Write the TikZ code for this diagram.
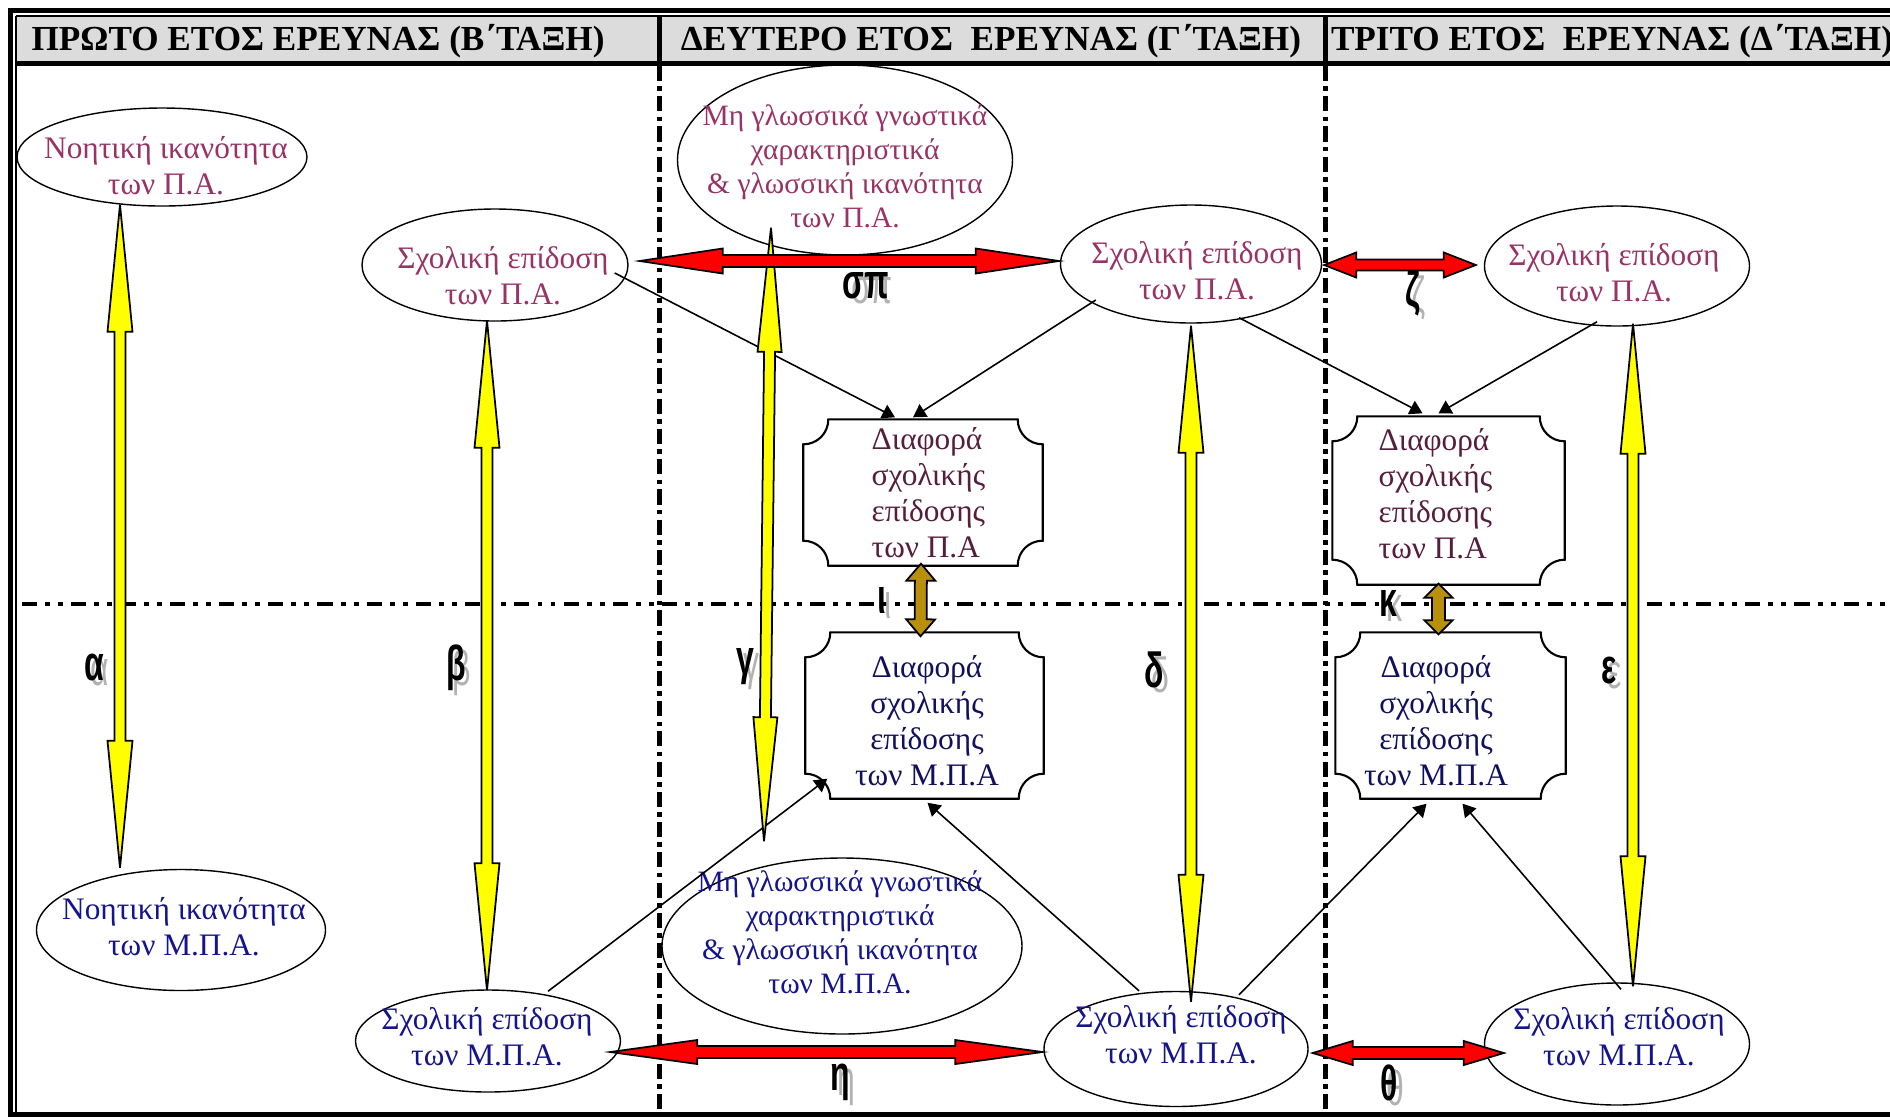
\documentclass[tikz,border=0pt]{standalone}
\usepackage{fontspec}
\usepackage{graphicx}
\setmainfont{Liberation Serif}
\newfontfamily\lblfont{Liberation Sans}
\usetikzlibrary{calc,arrows.meta,shapes.geometric}

\definecolor{paEll}{HTML}{993366}
\definecolor{paBox}{HTML}{561E3C}
\definecolor{mpaEll}{HTML}{14148C}
\definecolor{mpaBox}{HTML}{10105E}
\definecolor{headGray}{HTML}{DCDCDC}
\definecolor{arrYellow}{HTML}{FFFF00}
\definecolor{arrRed}{HTML}{FF0000}
\definecolor{arrGold}{HTML}{B8900B}

% double-headed block arrow between two named points
% #1,#2 tips, #3 half shaft, #4 half head, #5 head length, #6 fill
\newcommand\blockarrow[6]{%
  \draw[line width=0.5pt, fill=#6, line join=miter]
    (#1)
    -- ($(#1)!#5!(#2)!#4!90:(#2)$)
    -- ($(#1)!#5!(#2)!#3!90:(#2)$)
    -- ($(#2)!#5!(#1)!#3!-90:(#1)$)
    -- ($(#2)!#5!(#1)!#4!-90:(#1)$)
    -- (#2)
    -- ($(#2)!#5!(#1)!#4!90:(#1)$)
    -- ($(#2)!#5!(#1)!#3!90:(#1)$)
    -- ($(#1)!#5!(#2)!#3!-90:(#2)$)
    -- ($(#1)!#5!(#2)!#4!-90:(#2)$)
    -- cycle;}

% frame with concave corners around a rectangle node
\newcommand\plaque[1]{%
  \draw[line width=0.6pt, fill=white]
    ($(#1.north west)+(25,0)$) -- ($(#1.north east)+(-25,0)$)
    .. controls ($(#1.north east)+(-25,14)$) and ($(#1.north east)+(-14,25)$) .. ($(#1.north east)+(0,25)$)
    -- ($(#1.south east)+(0,-25)$)
    .. controls ($(#1.south east)+(-14,-25)$) and ($(#1.south east)+(-25,-14)$) .. ($(#1.south east)+(-25,0)$)
    -- ($(#1.south west)+(25,0)$)
    .. controls ($(#1.south west)+(25,-14)$) and ($(#1.south west)+(14,-25)$) .. ($(#1.south west)+(0,-25)$)
    -- ($(#1.north west)+(0,25)$)
    .. controls ($(#1.north west)+(14,25)$) and ($(#1.north west)+(25,14)$) .. cycle;}

% bold letter with a grey offset copy underneath
\newcommand\greeklabel[3]{%
  \node[lblshadow] (#1s) at ($(#2)+(6,5)$) {\scalebox{0.65}[1]{#3}};
  \node[lbl] (#1) at (#2) {\scalebox{0.65}[1]{#3}};}

\begin{document}
\begin{tikzpicture}[x=0.01cm,y=-0.01cm,
  ell/.style={ellipse, draw, line width=0.4pt, fill=white, inner sep=0pt},
  esize/.style 2 args={minimum width=#1*0.01cm, minimum height=#2*0.01cm},
  boxnode/.style={rectangle, inner sep=0pt},
  etxt/.style={inner sep=0pt, align=center, font=\fontsize{8.9pt}{10.24pt}\selectfont},
  etxtfour/.style={inner sep=0pt, align=center, font=\fontsize{8.4pt}{9.67pt}\selectfont},
  btxt/.style={inner sep=0pt, font=\fontsize{8.9pt}{10.24pt}\selectfont},
  thinarr/.style={line width=0.45pt, -{Triangle[length=3.6pt,width=4.2pt]}},
  vdiv/.style={line width=1.42pt, dash pattern=on 4.3pt off 1.5pt on 1.3pt off 1.5pt},
  hdiv/.style={line width=1.3pt, dash pattern=on 4.3pt off 2.3pt on 1.4pt off 2.3pt on 1.4pt off 2.3pt},
  lbl/.style={inner sep=0pt, text=black, font=\lblfont\bfseries\fontsize{14pt}{14pt}\selectfont},
  lblshadow/.style={inner sep=0pt, text=black!30, font=\lblfont\fontsize{14pt}{14pt}\selectfont},
  headtxt/.style={inner sep=0pt, font=\bfseries\fontsize{10pt}{12pt}\selectfont}
]
\useasboundingbox (0,0) rectangle (1890,1117);

% outer frame
\draw[line width=1.42pt] (8,10.5) -- (1890,10.5);
\draw[line width=0.3pt] (16,16) -- (1890,16);
\draw[line width=1.42pt] (10.5,8) -- (10.5,1117);
\draw[line width=0.3pt] (16,16) -- (16,1112);
\draw[line width=1.42pt] (8,1114.5) -- (1890,1114.5);

% column and row separators
\draw[vdiv] (659,66) -- (659,1112);
\draw[vdiv] (1325,66) -- (1325,1112);
\draw[hdiv] (22,604) -- (1890,604);

% ellipses
\node[ell, esize={290}{98}]  (E1)  at (162,157) {};
\node[ell, esize={289}{121}] (E1b) at (181,930) {};
\node[ell, esize={266}{112}] (E2)  at (495,265) {};
\node[ell, esize={265}{102}] (E3)  at (488,1041) {};
\node[ell, esize={335}{190}] (E4)  at (845,160) {};
\node[ell, esize={360}{176}] (E5)  at (842,946) {};
\node[ell, esize={261}{118}] (E6)  at (1191,264) {};
\node[ell, esize={264}{115}] (E7)  at (1176,1049) {};
\node[ell, esize={265}{120}] (E8)  at (1617,266) {};
\node[ell, esize={265}{122}] (E9)  at (1617,1044) {};

% difference boxes
\node[boxnode, esize={238}{145}] (B1) at (923,492.5) {};
\node[boxnode, esize={237}{165}] (B2) at (924.5,715.5) {};
\node[boxnode, esize={231}{167}] (B3) at (1448.5,500.5) {};
\node[boxnode, esize={229}{165}] (B4) at (1450.5,715.5) {};
\plaque{B1}
\plaque{B2}
\plaque{B3}
\plaque{B4}

% ellipse texts
\node[etxt, text=paEll]  (T1)  at (166,166)  {Νοητική ικανότητα\\των Π.Α.};
\node[etxt, text=mpaEll] (T1b) at (184,927)  {Νοητική ικανότητα\\των Μ.Π.Α.};
\node[etxt, text=paEll]  (T2)  at (503,276)  {Σχολική επίδοση\\των Π.Α.};
\node[etxt, text=mpaEll] (T3)  at (487,1037) {Σχολική επίδοση\\των Μ.Π.Α.};
\node[etxtfour, text=paEll]  (T4) at (845,166) {Μη γλωσσικά γνωστικά\\χαρακτηριστικά\\\& γλωσσική ικανότητα\\των Π.Α.};
\node[etxtfour, text=mpaEll] (T5) at (840,932) {Μη γλωσσικά γνωστικά\\χαρακτηριστικά\\\& γλωσσική ικανότητα\\των Μ.Π.Α.};
\node[etxt, text=paEll]  (T6)  at (1197,271)  {Σχολική επίδοση\\των Π.Α.};
\node[etxt, text=mpaEll] (T7)  at (1181,1035) {Σχολική επίδοση\\των Μ.Π.Α.};
\node[etxt, text=paEll]  (T8)  at (1614,273)  {Σχολική επίδοση\\των Π.Α.};
\node[etxt, text=mpaEll] (T9)  at (1619,1037) {Σχολική επίδοση\\των Μ.Π.Α.};

% box texts
\node[btxt, align=left, text=paBox, anchor=west]  (TB1) at (871,493)  {Διαφορά\\σχολικής\\επίδοσης\\των Π.Α};
\node[btxt, align=center, text=mpaBox]            (TB2) at (927,721)  {Διαφορά\\σχολικής\\επίδοσης\\των Μ.Π.Α};
\node[btxt, align=left, text=paBox, anchor=west]  (TB3) at (1378,494) {Διαφορά\\σχολικής\\επίδοσης\\των Π.Α};
\node[btxt, align=center, text=mpaBox]            (TB4) at (1436,721) {Διαφορά\\σχολικής\\επίδοσης\\των Μ.Π.Α};

% thin influence arrows
\draw[thinarr] ($(E2.east)+(-14,8)$)   -- ($(B1.north)+(-28,-2)$);
\draw[thinarr] ($(E6.west)+(36,36)$)   -- ($(B1.north)+(-10,-2)$);
\draw[thinarr] ($(E6.south)+(48,-6)$)  -- ($(B3.north)+(-26,-3)$);
\draw[thinarr] ($(E8.south)+(-20,-5)$) -- ($(B3.north)+(-10,-3)$);
\draw[thinarr] ($(E3.north)+(60,2)$)   -- ($(B2.south west)+(22,-20)$);
\draw[thinarr] ($(E7.north)+(-37,0)$)  -- ($(B2.south)+(3,4)$);
\draw[thinarr] ($(E7.north)+(63,4)$)   -- ($(B4.south)+(-24,5)$);
\draw[thinarr] ($(E9.north)+(4,7)$)    -- ($(B4.south)+(12,5)$);

% end points of the block arrows
\coordinate (alA) at ($(E1.south)+(-42,-2)$);
\coordinate (alB) at ($(E1b.north)+(-61,-1)$);
\coordinate (beA) at ($(E2.south)+(-8,-1)$);
\coordinate (beB) at ($(E3.north)+(-1,1)$);
\coordinate (gaA) at ($(E4.south)+(-74,-28)$);
\coordinate (gaB) at ($(E5.north)+(-78,-16)$);
\coordinate (deA) at ($(E6.south)+(0,2)$);
\coordinate (deB) at ($(E7.north)+(15,11)$);
\coordinate (epA) at ($(E8.south)+(16,-3)$);
\coordinate (epB) at ($(E9.north)+(16,4)$);
\coordinate (spA) at ($(E2.east)+(11,-4)$);
\coordinate (spB) at ($(E6.west)+(-1,-3)$);
\coordinate (zeA) at ($(E6.east)+(2,1)$);
\coordinate (zeB) at ($(E8.west)+(-8,-1)$);
\coordinate (etA) at ($(E3.east)+(-11,11)$);
\coordinate (etB) at ($(E7.west)+(-1,3)$);
\coordinate (thA) at ($(E7.east)+(4,4)$);
\coordinate (thB) at ($(E9.west)+(20,9)$);
\coordinate (ioA) at ($(B1.south)+(-2,-2)$);
\coordinate (ioB) at ($(B2.north)+(-4,4)$);
\coordinate (kaA) at ($(B3.south)+(-10,-1)$);
\coordinate (kaB) at ($(B4.north)+(-12,2)$);

% vertical links (yellow)
\blockarrow{alA}{alB}{0.055cm}{0.125cm}{1.27cm}{arrYellow}
\blockarrow{beA}{beB}{0.055cm}{0.125cm}{1.27cm}{arrYellow}
\blockarrow{gaA}{gaB}{0.055cm}{0.12cm}{1.24cm}{arrYellow}
\blockarrow{deA}{deB}{0.055cm}{0.125cm}{1.27cm}{arrYellow}
\blockarrow{epA}{epB}{0.055cm}{0.125cm}{1.30cm}{arrYellow}
% links across years (red)
\blockarrow{spA}{spB}{0.06cm}{0.125cm}{0.83cm}{arrRed}
\blockarrow{zeA}{zeB}{0.055cm}{0.125cm}{0.32cm}{arrRed}
\blockarrow{etA}{etB}{0.06cm}{0.12cm}{0.87cm}{arrRed}
\blockarrow{thA}{thB}{0.06cm}{0.12cm}{0.40cm}{arrRed}
% links between the difference boxes (gold)
\blockarrow{ioA}{ioB}{0.06cm}{0.145cm}{0.17cm}{arrGold}
\blockarrow{kaA}{kaB}{0.065cm}{0.14cm}{0.14cm}{arrGold}

% path labels
\greeklabel{Lal}{94,667}{α}
\greeklabel{Lbe}{456,668}{β}
\greeklabel{Lga}{745,667}{γ}
\greeklabel{Lde}{1154,670}{δ}
\greeklabel{Lep}{1609,670}{ε}
\greeklabel{Lsp}{866,286}{σπ}
\greeklabel{Lze}{1413,293}{ζ}
\greeklabel{Let}{840,1082}{η}
\greeklabel{Lth}{1389,1083}{θ}
\greeklabel{Lio}{882,600}{ι}
\greeklabel{Lka}{1388,603}{κ}

% header row
\fill[headGray] (17,17) rectangle (1890,61);
\draw[line width=1.42pt] (17,63.5) -- (1890,63.5);
\draw[line width=1.42pt] (659,17) -- (659,66);
\draw[line width=1.42pt] (1325,17) -- (1325,66);
\node[headtxt, anchor=base] (H1) at (318,50)  {ΠΡΩΤΟ ΕΤΟΣ ΕΡΕΥΝΑΣ (Β΄ΤΑΞΗ)};
\node[headtxt, anchor=base] (H2) at (991,50)  {ΔΕΥΤΕΡΟ ΕΤΟΣ\ \ ΕΡΕΥΝΑΣ (Γ΄ΤΑΞΗ)};
\node[headtxt, anchor=base] (H3) at (1612,50) {ΤΡΙΤΟ ΕΤΟΣ\ \ ΕΡΕΥΝΑΣ (Δ΄ΤΑΞΗ)};
\end{tikzpicture}
\end{document}
